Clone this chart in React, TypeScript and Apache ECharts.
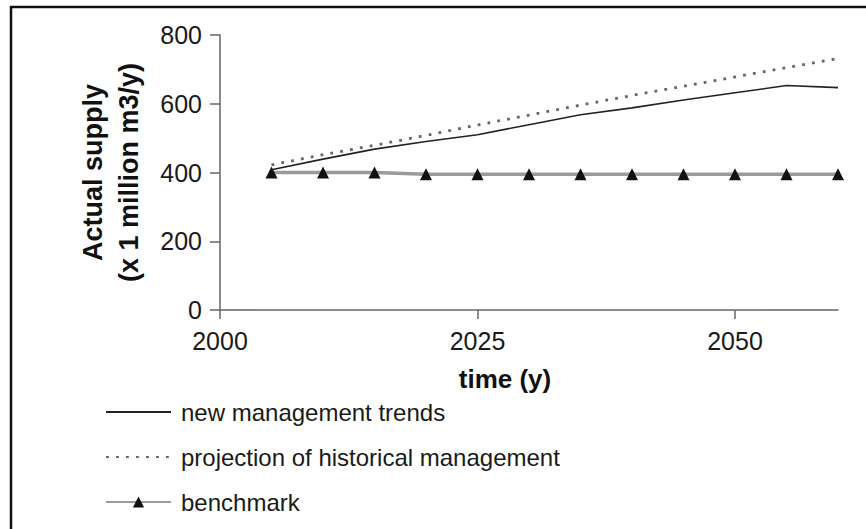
import React, { useEffect, useRef } from "react";
import * as echarts from "echarts";

const years = [2005, 2010, 2015, 2020, 2025, 2030, 2035, 2040, 2045, 2050, 2055, 2060];
const newManagement = [408, 439, 468, 490, 510, 539, 568, 588, 611, 632, 653, 647];
const historical = [422, 452, 479, 508, 538, 567, 596, 624, 651, 678, 705, 732];
const benchmark = [400, 400, 400, 395, 395, 395, 395, 395, 395, 395, 395, 395];
const xTicks = [2000, 2025, 2050];
const seriesNames = ["new management trends", "projection of historical management", "benchmark"];

const FONT = "'Liberation Sans', Arial, Helvetica, sans-serif";

function pairs(vals: number[]) {
  return years.map((y, i) => [y, vals[i]]);
}

export default function App() {
  const ref = useRef<HTMLDivElement>(null);
  useEffect(() => {
    if (!ref.current) return;
    const chart = echarts.init(ref.current, undefined, { renderer: "svg" });
    chart.setOption({
      animation: false,
      backgroundColor: "#ffffff",
      textStyle: { fontFamily: FONT },
      grid: { left: 220, right: 28, top: 35, bottom: 219, containLabel: false, outerBoundsMode: "none" },
      xAxis: {
        type: "value",
        min: 2000,
        max: 2060,
        interval: 25,
        name: "time (y)",
        nameLocation: "middle",
        nameGap: 56,
        nameTextStyle: { fontFamily: FONT, fontSize: 26, fontWeight: "bold", color: "#111", padding: [0, 48, 0, 0] },
        axisLine: { lineStyle: { color: "#666", width: 1.5 } },
        axisTick: { show: true, length: 9, lineStyle: { color: "#666", width: 1.5 }, customValues: xTicks },
        axisLabel: {
          fontFamily: FONT,
          fontSize: 25,
          color: "#1a1a1a",
          margin: 18,
          customValues: xTicks,
          formatter: (v: number) => String(v),
        },
        splitLine: { show: false },
      },
      yAxis: {
        type: "value",
        min: 0,
        max: 800,
        interval: 200,
        name: "Actual supply\n(x 1 million m3/y)",
        nameLocation: "middle",
        nameRotate: 90,
        nameGap: 73,
        nameTextStyle: { fontFamily: FONT, fontSize: 27, fontWeight: "bold", color: "#111", lineHeight: 36 },
        axisLine: { show: true, lineStyle: { color: "#666", width: 1.5 } },
        axisTick: { show: true, length: 10, lineStyle: { color: "#666", width: 1.5 } },
        axisLabel: { fontFamily: FONT, fontSize: 25, color: "#1a1a1a", margin: 18 },
        splitLine: { show: false },
      },
      legend: {
        orient: "vertical",
        left: 100,
        top: 393,
        itemWidth: 65,
        itemHeight: 14,
        itemGap: 17,
        textStyle: { fontFamily: FONT, fontSize: 24, color: "#1a1a1a", lineHeight: 28, padding: [0, 0, 0, 5] },
        data: [
          { name: seriesNames[0], itemStyle: { opacity: 0 } },
          { name: seriesNames[1], itemStyle: { opacity: 0 } },
          { name: seriesNames[2] },
        ],
      },
      series: [
        {
          name: seriesNames[2],
          type: "line",
          data: pairs(benchmark),
          symbol: "triangle",
          symbolSize: 12,
          itemStyle: { color: "#111" },
          lineStyle: { color: "#9a9a9a", width: 3.5 },
          z: 2,
        },
        {
          name: seriesNames[1],
          type: "line",
          data: pairs(historical),
          symbol: "none",
          itemStyle: { color: "#666" },
          lineStyle: { color: "#666", width: 2.8, type: [2.8, 7.2] },
          z: 3,
        },
        {
          name: seriesNames[0],
          type: "line",
          data: pairs(newManagement),
          symbol: "none",
          itemStyle: { color: "#222" },
          lineStyle: { color: "#222", width: 1.6 },
          z: 4,
        },
      ],
      graphic: [
        {
          type: "rect",
          shape: { x: 11, y: 7, width: 900, height: 600 },
          style: { fill: "none", stroke: "#111", lineWidth: 2.5 },
          silent: true,
        },
      ],
    });
    return () => chart.dispose();
  }, []);
  return (
    <div
      ref={ref}
      style={{ position: "fixed", left: 0, top: 0, width: 866, height: 529, background: "#fff" }}
    />
  );
}
